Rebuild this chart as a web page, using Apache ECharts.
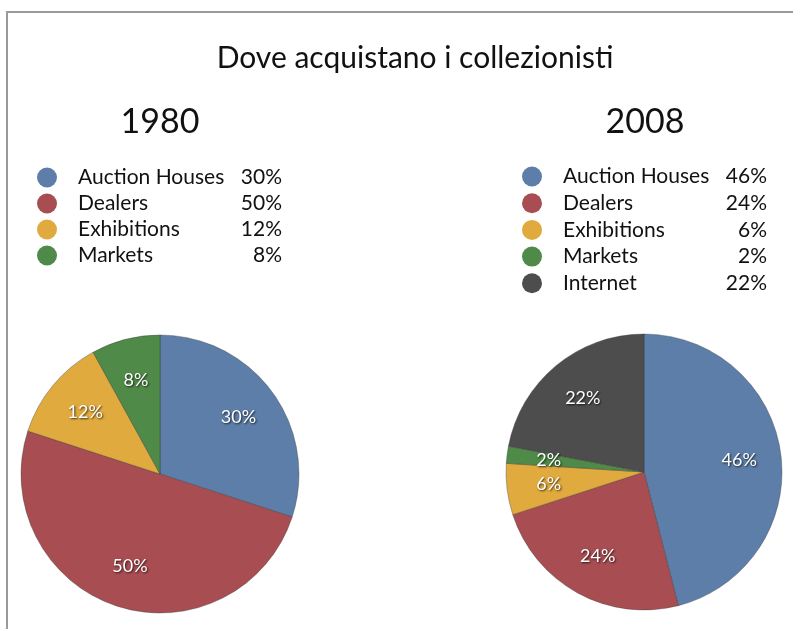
<!DOCTYPE html>
<html>
<head>
<meta charset="utf-8">
<script src="https://cdn.jsdelivr.net/npm/echarts@6/dist/echarts.min.js"></script>
<style>
html,body{margin:0;padding:0;background:#fff;}
#chart{width:793px;height:629px;}
</style>
</head>
<body>
<div id="chart"></div>
<script>
const mainTitle = 'Dove acquistano i collezionisti';
const yearLeft = '1980';
const yearRight = '2008';
const catsLeft = ['Auction Houses', 'Dealers', 'Exhibitions', 'Markets'];
const valsLeft = [30, 50, 12, 8];
const catsRight = ['Auction Houses', 'Dealers', 'Exhibitions', 'Markets', 'Internet'];
const valsRight = [46, 24, 6, 2, 22];
const colorMap = {
  'Auction Houses': '#5d7ea8',
  'Dealers': '#a84d52',
  'Exhibitions': '#e0aa3e',
  'Markets': '#4f8a48',
  'Internet': '#4d4d4d'
};
const FONT = 'Lato, "Open Sans", sans-serif';

function mkData(cats, vals) {
  return cats.map((c, i) => ({ name: c, value: vals[i], itemStyle: { color: colorMap[c] } }));
}
function mkLegendFormatter(cats, vals) {
  return function (name) {
    const i = cats.indexOf(name);
    return '{sp|}{n|' + name + '}{v|' + vals[i] + '%}';
  };
}
const legendRich = {
  sp: { width: 16, lineHeight: 20 },
  n: { width: 160, fontSize: 21, lineHeight: 20, fontFamily: FONT, color: '#111' },
  v: { width: 44, align: 'right', fontSize: 21, lineHeight: 20, fontFamily: FONT, color: '#111' }
};

function visiblePie(center, r, cats, vals) {
  return {
    type: 'pie', center: center, radius: [0, r], startAngle: 90, clockwise: true,
    data: mkData(cats, vals), label: { show: false }, labelLine: { show: false },
    itemStyle: { borderColor: 'rgba(50,50,50,0.35)', borderWidth: 1 },
    emphasis: { disabled: true }, silent: true, animation: false
  };
}
function labelPie(center, r, cats, vals) {
  return {
    type: 'pie', center: center, radius: [0, r], startAngle: 90, clockwise: true,
    data: cats.map((c, i) => ({ name: c, value: vals[i], itemStyle: { color: 'rgba(0,0,0,0)' } })),
    label: {
      show: true, position: 'inside', formatter: '{c}%', color: '#fff', fontSize: 18, fontFamily: FONT,
      textShadowColor: 'rgba(0,0,0,0.75)', textShadowBlur: 2, textShadowOffsetX: 1, textShadowOffsetY: 1
    },
    labelLine: { show: false }, emphasis: { disabled: true }, silent: true, animation: false,
    legendHoverLink: false
  };
}

const chart = echarts.init(document.getElementById('chart'), null, { renderer: 'canvas' });
chart.setOption({
  backgroundColor: '#fff',
  animation: false,
  legend: [
    {
      left: 37, top: 167, padding: 0, orient: 'vertical', icon: 'circle', itemWidth: 20, itemHeight: 20, itemGap: 5.0,
      selectedMode: false, data: catsLeft, formatter: mkLegendFormatter(catsLeft, valsLeft),
      itemStyle: { borderWidth: 0 },
      textStyle: { rich: legendRich, lineHeight: 20 }
    },
    {
      left: 522, top: 166, padding: 0, orient: 'vertical', icon: 'circle', itemWidth: 20, itemHeight: 20, itemGap: 5.7,
      selectedMode: false, data: catsRight, formatter: mkLegendFormatter(catsRight, valsRight),
      itemStyle: { borderWidth: 0 },
      textStyle: { rich: legendRich, lineHeight: 20 }
    }
  ],
  graphic: [
    { type: 'rect', shape: { x: 6, y: 11, width: 800, height: 2 }, style: { fill: '#9a9a9a' }, silent: true },
    { type: 'rect', shape: { x: 6, y: 11, width: 2, height: 640 }, style: { fill: '#9a9a9a' }, silent: true },
    { type: 'text', x: 415, y: 58, style: { text: mainTitle, font: '30px ' + FONT, fill: '#111', align: 'center', verticalAlign: 'middle' }, silent: true },
    { type: 'text', x: 160, y: 122, style: { text: yearLeft, font: '34px ' + FONT, fill: '#111', align: 'center', verticalAlign: 'middle' }, silent: true },
    { type: 'text', x: 645, y: 122, style: { text: yearRight, font: '34px ' + FONT, fill: '#111', align: 'center', verticalAlign: 'middle' }, silent: true }
  ],
  series: [
    visiblePie([160, 474], 139, catsLeft, valsLeft),
    visiblePie([644, 472], 138, catsRight, valsRight),
    labelPie([160, 474], 188, catsLeft, valsLeft),
    labelPie([644, 472], 186, catsRight, valsRight)
  ]
});
</script>
</body>
</html>
